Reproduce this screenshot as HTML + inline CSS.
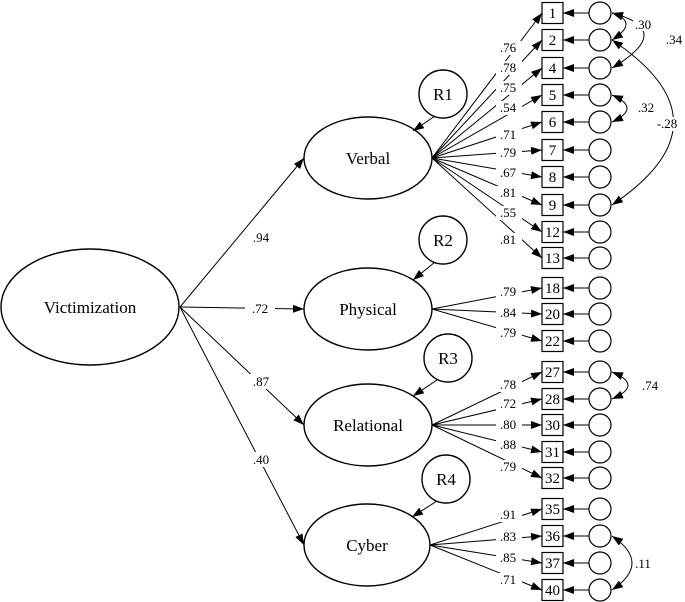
<!DOCTYPE html>
<html><head><meta charset="utf-8"><style>html,body{margin:0;padding:0;background:#fff}svg{display:block}</style></head><body>
<svg width="685" height="602" viewBox="0 0 685 602" xmlns="http://www.w3.org/2000/svg" font-family="Liberation Serif, serif">
<defs><marker id="a" viewBox="0 0 10 10" refX="10" refY="5" markerUnits="userSpaceOnUse" markerWidth="11" markerHeight="8" orient="auto-start-reverse" preserveAspectRatio="none"><path d="M0,0 L10,5 L0,10 z" fill="#000"/></marker></defs>
<g fill="none" stroke="#000" stroke-width="1.4">
<ellipse cx="90" cy="307" rx="89" ry="58"/>
<ellipse cx="368" cy="158" rx="64" ry="41"/>
<ellipse cx="368" cy="309" rx="64" ry="41"/>
<ellipse cx="368" cy="425" rx="64" ry="41"/>
<ellipse cx="367" cy="545" rx="63" ry="41"/>
<circle cx="443" cy="94" r="24"/><circle cx="443" cy="240" r="24"/><circle cx="448" cy="358" r="24"/><circle cx="446" cy="479" r="24"/>
</g>
<g stroke="#000" stroke-width="1" fill="none" marker-end="url(#a)">
<path d="M180,307 L304,158"/><path d="M180,307 L304,309"/><path d="M180,307 L304,425"/><path d="M180,307 L304,545"/>
<path d="M435,116 L413,131"/><path d="M435,262 L413,280"/><path d="M437,380 L413,396"/><path d="M437,501 L412,517"/>
</g>
<g stroke="#000" stroke-width="1" fill="none" marker-end="url(#a)">
<path d="M432,158 L542,13"/><path d="M432,158 L542,40"/><path d="M432,158 L542,68"/><path d="M432,158 L542,95"/><path d="M432,158 L542,122"/><path d="M432,158 L542,150"/><path d="M432,158 L542,177"/><path d="M432,158 L542,205"/><path d="M432,158 L542,232"/><path d="M432,158 L542,258"/>
<path d="M432,309 L542,288"/><path d="M432,309 L542,314"/><path d="M432,309 L542,341"/>
<path d="M432,425 L542,372"/><path d="M432,425 L542,399"/><path d="M432,425 L542,425"/><path d="M432,425 L542,452"/><path d="M432,425 L542,478"/>
<path d="M430,545 L542,509"/><path d="M430,545 L542,536"/><path d="M430,545 L542,563"/><path d="M430,545 L542,590"/>
<path d="M589,13 L563,13"/><path d="M589,40 L563,40"/><path d="M589,68 L563,68"/><path d="M589,95 L563,95"/><path d="M589,122 L563,122"/><path d="M589,150 L563,150"/><path d="M589,177 L563,177"/><path d="M589,205 L563,205"/><path d="M589,232 L563,232"/><path d="M589,258 L563,258"/>
<path d="M589,288 L563,288"/><path d="M589,314 L563,314"/><path d="M589,341 L563,341"/>
<path d="M589,372 L563,372"/><path d="M589,399 L563,399"/><path d="M589,425 L563,425"/><path d="M589,452 L563,452"/><path d="M589,478 L563,478"/>
<path d="M589,509 L563,509"/><path d="M589,536 L563,536"/><path d="M589,563 L563,563"/><path d="M589,590 L563,590"/>
</g>
<g fill="#fff" stroke="#000" stroke-width="1.2">
<rect x="542" y="2.5" width="21" height="21"/><rect x="542" y="29.5" width="21" height="21"/><rect x="542" y="57.5" width="21" height="21"/><rect x="542" y="84.5" width="21" height="21"/><rect x="542" y="111.5" width="21" height="21"/><rect x="542" y="139.5" width="21" height="21"/><rect x="542" y="166.5" width="21" height="21"/><rect x="542" y="194.5" width="21" height="21"/><rect x="542" y="221.5" width="21" height="21"/><rect x="542" y="247.5" width="21" height="21"/>
<rect x="542" y="277.5" width="21" height="21"/><rect x="542" y="303.5" width="21" height="21"/><rect x="542" y="330.5" width="21" height="21"/>
<rect x="542" y="361.5" width="21" height="21"/><rect x="542" y="388.5" width="21" height="21"/><rect x="542" y="414.5" width="21" height="21"/><rect x="542" y="441.5" width="21" height="21"/><rect x="542" y="467.5" width="21" height="21"/>
<rect x="542" y="498.5" width="21" height="21"/><rect x="542" y="525.5" width="21" height="21"/><rect x="542" y="552.5" width="21" height="21"/><rect x="542" y="579.5" width="21" height="21"/>
</g>
<g fill="none" stroke="#000" stroke-width="1.2">
<circle cx="600" cy="13" r="11"/><circle cx="600" cy="40" r="11"/><circle cx="600" cy="68" r="11"/><circle cx="600" cy="95" r="11"/><circle cx="600" cy="122" r="11"/><circle cx="600" cy="150" r="11"/><circle cx="600" cy="177" r="11"/><circle cx="600" cy="205" r="11"/><circle cx="600" cy="232" r="11"/><circle cx="600" cy="258" r="11"/>
<circle cx="600" cy="288" r="11"/><circle cx="600" cy="314" r="11"/><circle cx="600" cy="341" r="11"/>
<circle cx="600" cy="372" r="11"/><circle cx="600" cy="399" r="11"/><circle cx="600" cy="425" r="11"/><circle cx="600" cy="452" r="11"/><circle cx="600" cy="478" r="11"/>
<circle cx="600" cy="509" r="11"/><circle cx="600" cy="536" r="11"/><circle cx="600" cy="563" r="11"/><circle cx="600" cy="590" r="11"/>
</g>
<g font-size="15" text-anchor="middle">
<text x="552.5" y="18">1</text><text x="552.5" y="45">2</text><text x="552.5" y="73">4</text><text x="552.5" y="100">5</text><text x="552.5" y="127">6</text><text x="552.5" y="155">7</text><text x="552.5" y="182">8</text><text x="552.5" y="210">9</text><text x="552.5" y="237">12</text><text x="552.5" y="263">13</text>
<text x="552.5" y="293">18</text><text x="552.5" y="319">20</text><text x="552.5" y="346">22</text>
<text x="552.5" y="377">27</text><text x="552.5" y="404">28</text><text x="552.5" y="430">30</text><text x="552.5" y="457">31</text><text x="552.5" y="483">32</text>
<text x="552.5" y="514">35</text><text x="552.5" y="541">36</text><text x="552.5" y="568">37</text><text x="552.5" y="595">40</text>
</g>
<g fill="#fff">
<rect x="496" y="41" width="26" height="14"/><rect x="496" y="61" width="26" height="14"/><rect x="496" y="81" width="26" height="14"/><rect x="496" y="101" width="26" height="14"/><rect x="496" y="128" width="26" height="14"/><rect x="496" y="146" width="26" height="14"/><rect x="496" y="166" width="26" height="14"/><rect x="496" y="186" width="26" height="14"/><rect x="496" y="206" width="26" height="14"/><rect x="496" y="233" width="26" height="14"/>
<rect x="496" y="285" width="26" height="14"/><rect x="496" y="306" width="26" height="14"/><rect x="496" y="326" width="26" height="14"/>
<rect x="496" y="378" width="26" height="14"/><rect x="496" y="397" width="26" height="14"/><rect x="496" y="418" width="26" height="14"/><rect x="496" y="438" width="26" height="14"/><rect x="496" y="460" width="26" height="14"/>
<rect x="496" y="508" width="26" height="14"/><rect x="496" y="530" width="26" height="14"/><rect x="496" y="551" width="26" height="14"/><rect x="496" y="573" width="26" height="14"/>
<rect x="245" y="301" width="30" height="14"/><rect x="247" y="374" width="28" height="15"/><rect x="247" y="452" width="28" height="15"/>
</g>
<g font-size="13" text-anchor="middle">
<text x="508" y="52">.76</text><text x="508" y="72">.78</text><text x="508" y="92">.75</text><text x="508" y="112">.54</text><text x="508" y="139">.71</text><text x="508" y="157">.79</text><text x="508" y="177">.67</text><text x="508" y="197">.81</text><text x="508" y="217">.55</text><text x="508" y="244">.81</text>
<text x="508" y="296">.79</text><text x="508" y="317">.84</text><text x="508" y="337">.79</text>
<text x="508" y="389">.78</text><text x="508" y="408">.72</text><text x="508" y="429">.80</text><text x="508" y="449">.88</text><text x="508" y="471">.79</text>
<text x="508" y="519">.91</text><text x="508" y="541">.83</text><text x="508" y="562">.85</text><text x="508" y="584">.71</text>
<text x="261" y="242">.94</text><text x="260" y="313">.72</text><text x="261" y="386">.87</text><text x="261" y="464">.40</text>
</g>
<g font-size="17" text-anchor="middle">
<text x="90" y="313">Victimization</text><text x="368" y="164">Verbal</text><text x="368" y="315">Physical</text><text x="368" y="431">Relational</text><text x="367" y="551">Cyber</text>
<text x="443" y="100">R1</text><text x="443" y="246">R2</text><text x="448" y="364">R3</text><text x="446" y="485">R4</text>
</g>
<g fill="none" stroke="#000" stroke-width="1">
<path d="M612,13 Q640,22 612,40" marker-start="url(#a)" marker-end="url(#a)"/>
<path d="M612,13 Q676,30 612,68" marker-start="url(#a)" marker-end="url(#a)"/>
<path d="M612,40 Q735,122 612,205" marker-start="url(#a)" marker-end="url(#a)"/>
<path d="M612,95 Q642,108 612,122" marker-start="url(#a)" marker-end="url(#a)"/>
<path d="M612,372 Q644,385 612,399" marker-start="url(#a)" marker-end="url(#a)"/>
<path d="M612,536 Q652,563 612,590" marker-start="url(#a)" marker-end="url(#a)"/>
</g>
<g font-size="13" text-anchor="middle">
<rect x="633" y="18" width="22" height="13" fill="#fff"/><text x="643" y="29">.30</text>
<text x="674" y="44">.34</text>
<rect x="654" y="117" width="28" height="14" fill="#fff"/><text x="667" y="128">-.28</text>
<rect x="635" y="101" width="22" height="13" fill="#fff"/><text x="646" y="112">.32</text>
<rect x="639" y="379" width="22" height="13" fill="#fff"/><text x="650" y="390">.74</text>
<rect x="633" y="557" width="20" height="13" fill="#fff"/><text x="643" y="568">.11</text>
</g>
</svg>
</body></html>
